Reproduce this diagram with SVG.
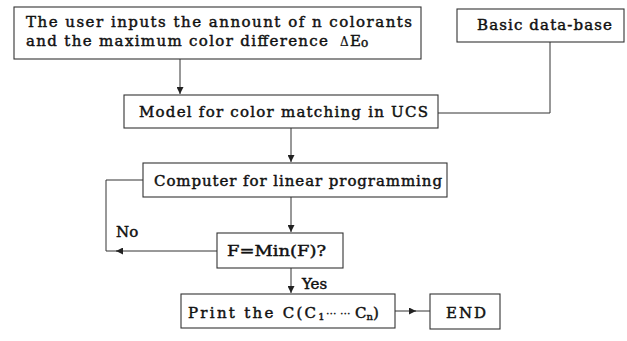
<svg xmlns="http://www.w3.org/2000/svg" width="627" height="341" viewBox="0 0 627 341">
<style>
.box{fill:#fff;stroke:#333;stroke-width:1.1}
.ln{fill:none;stroke:#333;stroke-width:1}
text{font-family:"DejaVu Serif","Liberation Serif",serif;font-size:15px;fill:#111;stroke:#111;stroke-width:0.45}
.sub{font-size:10px}
</style>
<defs>
<marker id="ah" viewBox="0 0 10 10" refX="10" refY="5" markerWidth="7" markerHeight="7" markerUnits="userSpaceOnUse" orient="auto">
<path d="M0,0 L10,5 L0,10 z" fill="#222"/>
</marker>
</defs>
<rect width="627" height="341" fill="#fff"/>
<g id="connectors">
<path class="ln" d="M180,59 V94" marker-end="url(#ah)"/>
<path class="ln" d="M550,42 V113 H438"/>
<path class="ln" d="M291,128 V162" marker-end="url(#ah)"/>
<path class="ln" d="M291,197 V232" marker-end="url(#ah)"/>
<path class="ln" d="M217,251 H116" marker-end="url(#ah)"/>
<path class="ln" d="M118,251 H106 V180 H143"/>
<path class="ln" d="M291,268 V293" marker-end="url(#ah)"/>
<path class="ln" d="M395,311 H416" marker-end="url(#ah)"/>
<path class="ln" d="M414,311 H430"/>
</g>
<g id="input">
<rect class="box" x="14" y="7" width="407" height="52"/>
<text x="26" y="27" textLength="386" lengthAdjust="spacing">The user inputs the annount of n colorants</text>
<text x="26" y="46"><tspan textLength="302" lengthAdjust="spacing">and the maximum color difference</tspan><tspan x="340" font-size="12" stroke-width="0.2">Δ</tspan><tspan x="350">E</tspan><tspan font-size="12" dy="1">o</tspan></text>
</g>
<g id="database">
<rect class="box" x="457" y="9" width="167" height="33"/>
<text x="477" y="30" textLength="135" lengthAdjust="spacing">Basic data-base</text>
</g>
<g id="model">
<rect class="box" x="124" y="95" width="314" height="33"/>
<text x="139" y="117" textLength="289" lengthAdjust="spacing">Model for color matching in UCS</text>
</g>
<g id="computer">
<rect class="box" x="143" y="163" width="304" height="34"/>
<text x="154" y="186" textLength="288" lengthAdjust="spacing">Computer for linear programming</text>
</g>
<g id="decision">
<rect class="box" x="217" y="233" width="126" height="35"/>
<text x="227" y="256" textLength="99" lengthAdjust="spacingAndGlyphs">F=Min(F)?</text>
</g>
<g id="labels">
<text x="116" y="237">No</text>
<text x="302" y="289">Yes</text>
</g>
<g id="print">
<rect class="box" x="181" y="294" width="214" height="34"/>
<text x="188" y="318"><tspan textLength="128" lengthAdjust="spacing">Print the C(C</tspan><tspan class="sub" dy="2">1</tspan><tspan x="326" dy="-2" font-size="11" stroke-width="0.2">··· ···</tspan><tspan x="355">C</tspan><tspan class="sub" dy="2">n</tspan><tspan dy="-2">)</tspan></text>
</g>
<g id="end">
<rect class="box" x="430" y="294" width="70" height="35"/>
<text x="446" y="318" textLength="40" lengthAdjust="spacing">END</text>
</g>
</svg>
